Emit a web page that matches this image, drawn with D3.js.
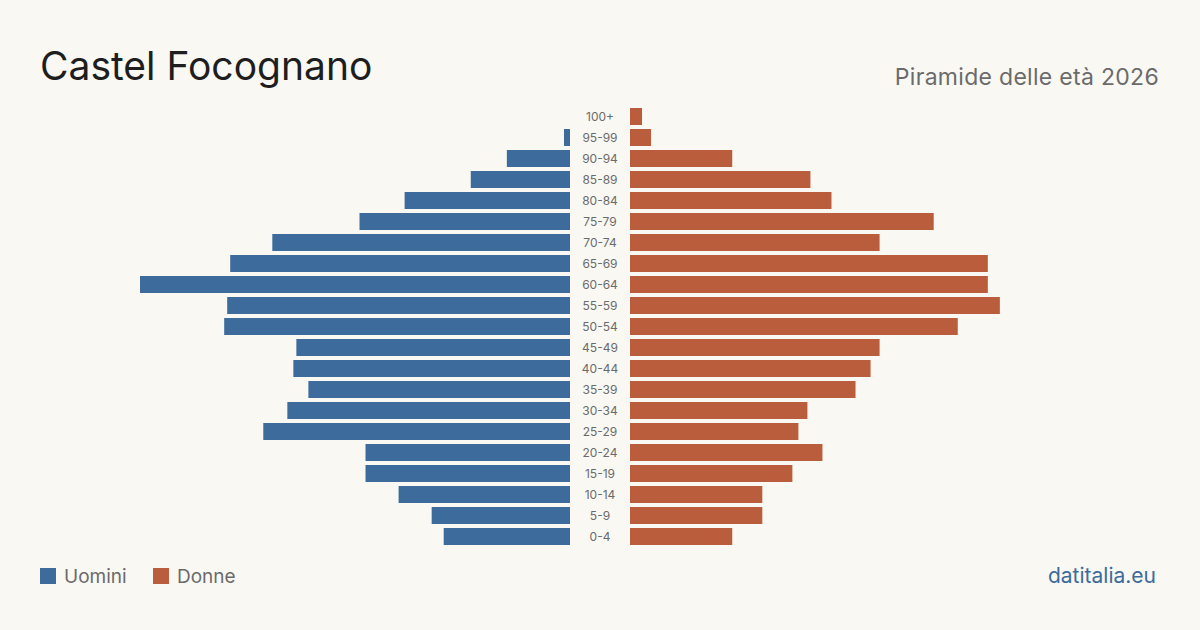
<!DOCTYPE html>
<html>
<head>
<meta charset="utf-8">
<script src="https://cdn.jsdelivr.net/npm/d3@7"></script>
<style>
  html, body { margin: 0; padding: 0; background: #f9f8f3; }
  svg { display: block; font-family: Inter, "Noto Sans", sans-serif; }
</style>
</head>
<body>
<div id="chart"></div>
<script>
// DATA
const ages = ["100+", "95-99", "90-94", "85-89", "80-84", "75-79", "70-74", "65-69", "60-64", "55-59",
  "50-54", "45-49", "40-44", "35-39", "30-34", "25-29", "20-24", "15-19", "10-14", "5-9", "0-4"]
const men = [0, 2, 21, 33, 55, 70, 99, 113, 143, 114, 115, 91, 92, 87, 94, 102, 68, 68, 57, 46, 42]
const women = [4, 7, 34, 60, 67, 101, 83, 119, 119, 123, 109, 83, 80, 75, 59, 56, 64, 54, 44, 44, 34]
const legendLabels = ["Uomini", "Donne"]

const width = 1200, height = 630
const colors = ["#3c6b9c", "#b95d3d"]

const svg = d3.select("#chart")
    .append("svg")
    .attr("width", width)
    .attr("height", height)

svg.append("rect")
    .attr("width", width)
    .attr("height", height)
    .attr("fill", "#f9f8f3")

// SCALES
const maxVal = d3.max(men.concat(women))
const xLeft = d3.scaleLinear().domain([0, maxVal]).range([0, 430])
const yScale = d3.scaleBand()
    .domain(ages)
    .range([106, 547])
    .paddingInner(4 / 21)
    .paddingOuter(2 / 21)

const leftEdge = 570, rightEdge = 630

// MEN BARS
svg.append("g")
    .selectAll("rect")
    .data(ages)
    .join("rect")
    .attr("x", (d, i) => leftEdge - xLeft(men[i]))
    .attr("y", d => yScale(d))
    .attr("width", (d, i) => xLeft(men[i]))
    .attr("height", yScale.bandwidth())
    .attr("fill", colors[0])

// WOMEN BARS
svg.append("g")
    .selectAll("rect")
    .data(ages)
    .join("rect")
    .attr("x", rightEdge)
    .attr("y", d => yScale(d))
    .attr("width", (d, i) => xLeft(women[i]))
    .attr("height", yScale.bandwidth())
    .attr("fill", colors[1])

// AGE LABELS
svg.append("g")
    .selectAll("text")
    .data(ages)
    .join("text")
    .text(d => d)
    .attr("x", 600)
    .attr("y", d => yScale(d) + yScale.bandwidth() / 2)
    .attr("dy", "0.35em")
    .attr("text-anchor", "middle")
    .attr("font-size", 12)
    .attr("fill", "#6b6b6b")

// TITLES
svg.append("text")
    .text("Castel Focognano")
    .attr("x", 40)
    .attr("y", 80)
    .attr("font-size", 39)
    .attr("fill", "#1e1e1e")

svg.append("text")
    .text("Piramide delle età 2026")
    .attr("x", 1159)
    .attr("y", 85)
    .attr("text-anchor", "end")
    .attr("font-size", 23)
    .attr("letter-spacing", 0.3)
    .attr("fill", "#6b6b6b")

// LEGEND
const legend = svg.append("g")
    .selectAll("g")
    .data(legendLabels)
    .join("g")
    .attr("transform", (d, i) => `translate(${i === 0 ? 40 : 153}, 568)`)

legend.append("rect")
    .attr("width", 16)
    .attr("height", 16)
    .attr("fill", (d, i) => colors[i])

legend.append("text")
    .text(d => d)
    .attr("x", 24)
    .attr("y", 15)
    .attr("font-size", 19)
    .attr("fill", "#6b6b6b")

// SOURCE
svg.append("text")
    .text("datitalia.eu")
    .attr("x", 1156)
    .attr("y", 583)
    .attr("text-anchor", "end")
    .attr("font-size", 21)
    .attr("fill", "#3c6b9c")
</script>
</body>
</html>
